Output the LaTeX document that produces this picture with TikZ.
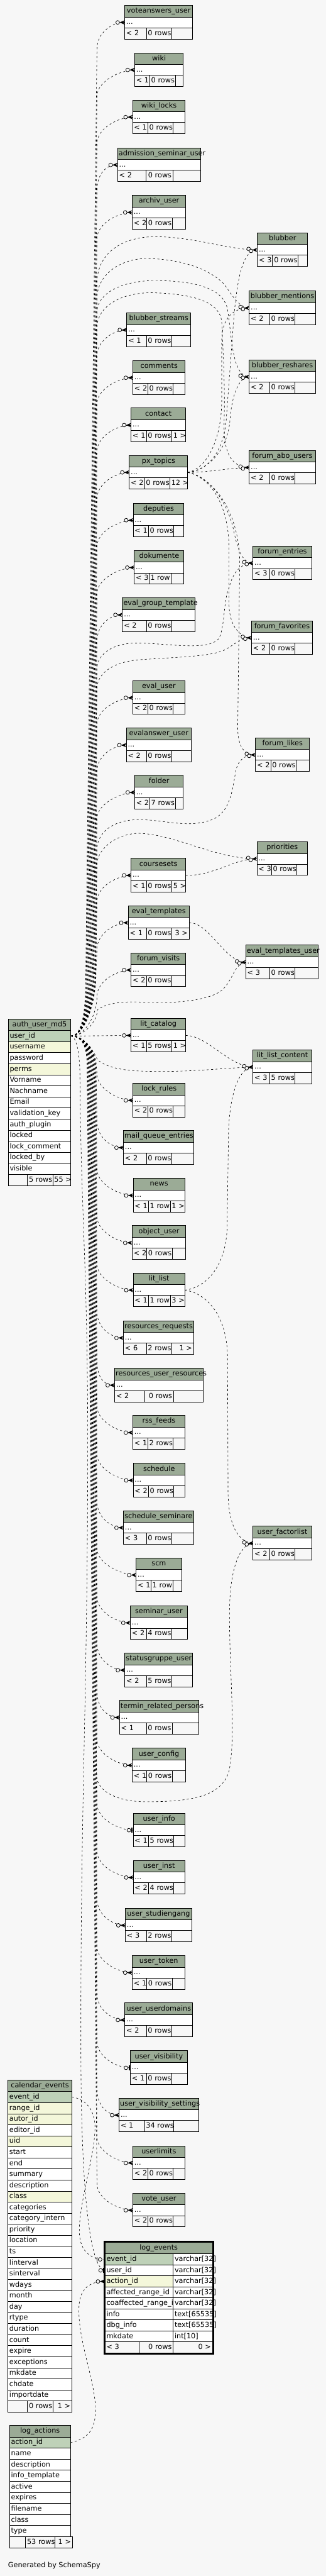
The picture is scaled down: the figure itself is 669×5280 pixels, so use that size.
\documentclass[tikz,border=0pt]{standalone}
\usepackage{fontspec}
\setmainfont{DejaVu Sans}
\usetikzlibrary{calc}

\definecolor{bgc}{HTML}{F7F7F7}
\definecolor{hdrc}{HTML}{9BAB96}
\definecolor{keyc}{HTML}{BED1B8}
\definecolor{idxc}{HTML}{F4F7DA}

\tikzset{
  cell/.style={draw=black, line width=0.6pt, inner xsep=1.5pt, inner ysep=0pt,
    outer sep=0pt, text height=5.3pt, text depth=1.5pt, anchor=north west},
  hdr/.style={cell, fill=hdrc, inner xsep=1pt, minimum height=12pt, align=center},
  dotrow/.style={cell, fill=white, minimum height=11pt, align=left},
  foot/.style={cell, fill=bgc, minimum height=11.5pt, align=left},
  footr/.style={foot, align=right},
  col/.style={cell, minimum height=11.3pt, align=left},
  fk/.style={line width=0.4pt, dash pattern=on 2pt off 2.5pt},
  mk/.style={line width=0.5pt, fill=bgc},
}

\newlength\cw
% collapsed table: name, x left, split 1, split 2, x right, y top, footer texts
\newcommand\ctab[9]{%
  \pgfmathsetlength\cw{(#5-#2)*0.5pt-2pt}%
  \node[hdr, text width=\cw] (#1) at (#2,#6) {\detokenize{#1}};
  \pgfmathsetlength\cw{(#5-#2)*0.5pt-3pt}%
  \node[dotrow, text width=\cw] (#1-r) at (#2,{#6+24}) {...};
  \pgfmathsetlength\cw{(#3-#2)*0.5pt-3pt}%
  \node[foot, text width=\cw] (#1-a) at (#2,{#6+46}) {\mbox{#7}};
  \pgfmathsetlength\cw{(#4-#3)*0.5pt-3pt}%
  \node[footr, text width=\cw] (#1-b) at (#3,{#6+46}) {\mbox{#8}};
  \pgfmathsetlength\cw{(#5-#4)*0.5pt-3pt}%
  \node[footr, text width=\cw] (#1-c) at (#4,{#6+46}) {\mbox{#9}};}

% crow's foot with open circle (zero or many)
\newcommand\many[1]{%
  \fill ($(#1.west)+(-10.5,0)$) -- ($(#1.west)+(0,-4.5)$) -- ($(#1.west)+(-3.5,0)$)
    -- ($(#1.west)+(0,4.5)$) -- cycle;
  \draw[line width=0.5pt] ($(#1.west)+(-10.5,0)$) -- (#1.west);
  \draw[mk] ($(#1.west)+(-14.5,0)$) circle (1.9pt);}
\newcommand\mmany[1]{%
  \fill ($(#1.west)+(-10.5,0)$) -- ($(#1.west)+(0,-4.5)$) -- ($(#1.west)+(-3.5,0)$)
    -- ($(#1.west)+(0,4.5)$) -- cycle;
  \draw[line width=0.5pt] ($(#1.west)+(-10.5,0)$) -- (#1.west);
  \draw[mk] ($(#1.west)+(-18,-2)$) circle (1.9pt);
  \draw[mk] ($(#1.west)+(-13,2)$) circle (1.9pt);}
% open circle and bar (zero or one)
\newcommand\zeroone[1]{%
  \draw[line width=1.2pt] ($(#1.west)+(-2.5,-5)$) -- ($(#1.west)+(-2.5,5)$);
  \draw[mk] ($(#1.west)+(-9,0)$) circle (1.9pt);}
\newcommand\onezero[1]{%
  \draw[line width=0.6pt] ($(#1.west)+(-17,-5)$) -- ($(#1.west)+(-17,5)$);
  \draw[mk] ($(#1.west)+(-10,0)$) circle (1.9pt);}

% bundle from auth_user_md5.user_id, up or down to a table
\newcommand\fkup[2]{%
  \draw[fk] (au-1.east) .. controls (172,2123.6) and (#2,2060) .. (#2,1995)
    -- ($(#1.west -| bus)+(0,55)$) .. controls ($(#1.west -| bus)+(0,22)$)
    and ($(#1.west)+(-28,0)$) .. (#1.west);}
\newcommand\fkdn[2]{%
  \draw[fk] (au-1.east) .. controls (172,2123.6) and (#2,2150) .. (#2,2190)
    -- ($(#1.west -| bus)+(0,-55)$) .. controls ($(#1.west -| bus)+(0,-22)$)
    and ($(#1.west)+(-28,0)$) .. (#1.west);}

\begin{document}
\begin{tikzpicture}[x=0.5pt, y=-0.5pt, font=\fontsize{7.25}{8.7}\selectfont]
  \useasboundingbox (0,0) rectangle (669,5280);
  \fill[bgc] (0,0) rectangle (669,5280);
  \coordinate (bus) at (199,0);

  % --- auth_user_md5 ---
  \pgfmathsetlength\cw{(145.5-17)*0.5pt-2pt}
  \node[hdr, text width=\cw] (auth_user_md5) at (17,2088.3) {auth\_user\_md5};
  \pgfmathsetlength\cw{(145.5-17)*0.5pt-3pt}
  \foreach \tx/\cl [count=\i] in {user\_id/keyc, username/idxc, password/white,
      perms/idxc, Vorname/white, Nachname/white, Email/white, validation\_key/white,
      auth\_plugin/white, locked/white, lock\_comment/white, locked\_by/white, visible/white}
    \node[col, fill=\cl, text width=\cw] (au-\i) at (17,{2112.3+(\i-1)*22.69}) {\tx};
  \node[foot, text width=16.65pt] (au-fa) at (17,2407.3) {};
  \node[footr, text width=23.05pt] (au-fb) at (56.3,2407.3) {\mbox{5 rows}};
  \node[footr, text width=15.55pt] (au-fc) at (108.4,2407.3) {\mbox{55 >}};

  % --- calendar_events ---
  \pgfmathsetlength\cw{(147.6-16.2)*0.5pt-2pt}
  \node[hdr, text width=\cw] (calendar_events) at (16.2,4263.3) {calendar\_events};
  \pgfmathsetlength\cw{(147.6-16.2)*0.5pt-3pt}
  \foreach \tx/\cl [count=\i] in {event\_id/keyc, range\_id/idxc, autor\_id/idxc,
      editor\_id/white, uid/idxc, start/white, end/white, summary/white,
      description/white, class/idxc, categories/white, category\_intern/white,
      priority/white, location/white, ts/white, linterval/white, sinterval/white,
      wdays/white, month/white, day/white, rtype/white, duration/white, count/white,
      expire/white, exceptions/white, mkdate/white, chdate/white, importdate/white}
    \node[col, fill=\cl, text width=\cw] (ce-\i) at (16.2,{4287.3+(\i-1)*22.64}) {\tx};
  \node[foot, text width=17.05pt] (ce-fa) at (16.2,4921.2) {};
  \node[footr, text width=23.05pt] (ce-fb) at (56.3,4921.2) {\mbox{0 rows}};
  \node[footr, text width=16.6pt] (ce-fc) at (108.4,4921.2) {\mbox{1 >}};

  % --- log_actions ---
  \pgfmathsetlength\cw{(144.6-19.6)*0.5pt-2pt}
  \node[hdr, text width=\cw] (log_actions) at (19.6,4971.3) {log\_actions};
  \pgfmathsetlength\cw{(144.6-19.6)*0.5pt-3pt}
  \foreach \tx/\cl [count=\i] in {action\_id/keyc, name/white, description/white,
      info\_template/white, active/white, expires/white, filename/white,
      class/white, type/white}
    \node[col, fill=\cl, text width=\cw] (la-\i) at (19.6,{4995.3+(\i-1)*22.67}) {\tx};
  \node[foot, text width=13.45pt] (la-fa) at (19.6,5199.3) {};
  \node[footr, text width=27.05pt] (la-fb) at (52.5,5199.3) {\mbox{53 rows}};
  \node[footr, text width=15pt] (la-fc) at (112.6,5199.3) {\mbox{1 >}};

  % --- log_events (focus table) ---
  \pgfmathsetlength\cw{(436-215.5)*0.5pt-2pt}
  \node[hdr, text width=\cw] (log_events) at (215.5,4595.7) {log\_events};
  \foreach \tx/\ty/\cl [count=\i] in {event\_id/varchar[32]/keyc,
      user\_id/varchar[32]/white, action\_id/varchar[32]/idxc,
      affected\_range\_id/varchar[32]/white, coaffected\_range\_id/varchar[32]/white,
      info/text[65535]/white, dbg\_info/text[65535]/white, mkdate/int[10]/white}{
    \node[col, fill=\cl, text width=66.95pt] (le-\i) at (215.5,{4619.7+(\i-1)*22.58}) {\tx};
    \node[col, fill=white, text width=38.8pt] (lt-\i) at (355.4,{4619.7+(\i-1)*22.58}) {\ty};
  }
  \node[foot, text width=32pt] (le-fa) at (215.5,4800.3) {\mbox{< 3}};
  \node[footr, text width=31.95pt] (le-fb) at (285.5,4800.3) {\mbox{0 rows}};
  \node[footr, text width=37.3pt] (le-fc) at (355.4,4800.3) {\mbox{0 >}};
  \draw[line width=1.6pt] (214,4594) rectangle (437.5,4824.8);

  % --- middle column ---
  \ctab{voteanswers_user}{256}{300.4}{352.5}{395.6}{11}{< 2}{0 rows}{}
  \ctab{wiki}{276.5}{307.2}{359.7}{376.3}{108.3}{< 1}{0 rows}{}
  \ctab{wiki_locks}{272.2}{303.4}{355}{380.2}{205}{< 1}{0 rows}{}
  \ctab{admission_seminar_user}{241.5}{299.5}{355}{411.3}{303}{< 2}{0 rows}{}
  \ctab{archiv_user}{271.4}{301.2}{353.3}{381}{400.3}{< 2}{0 rows}{}
  \ctab{blubber_streams}{260.3}{300.4}{352.5}{391.3}{641.3}{< 1}{0 rows}{}
  \ctab{comments}{272.7}{303.4}{355}{380.2}{739.3}{< 2}{0 rows}{}
  \ctab{contact}{269.2}{300.4}{352.5}{381}{836.3}{< 1}{0 rows}{1 >}
  \ctab{px_topics}{265.4}{296.6}{348.6}{385.3}{933.3}{< 2}{0 rows}{12 >}
  \ctab{deputies}{273.5}{304.7}{356.3}{377.6}{1031.3}{< 1}{0 rows}{}
  \ctab{dokumente}{275.6}{305.5}{351.6}{377.6}{1128.3}{< 3}{1 row}{}
  \ctab{eval_group_template}{251.3}{300.4}{352.5}{400.7}{1225.3}{< 2}{0 rows}{}
  \ctab{eval_user}{272.7}{303.4}{355}{379.3}{1395.3}{< 2}{0 rows}{}
  \ctab{evalanswer_user}{259.4}{300.4}{352.5}{392.1}{1492.3}{< 2}{0 rows}{}
  \ctab{folder}{276.5}{307.2}{359.7}{376.3}{1589.3}{< 2}{7 rows}{}
  \ctab{coursesets}{269.2}{300.4}{352.5}{381}{1759.3}{< 1}{0 rows}{5 >}
  \ctab{eval_templates}{263.3}{300.4}{352.5}{388.3}{1856.3}{< 1}{0 rows}{3 >}
  \ctab{forum_visits}{269.2}{300.4}{352.5}{381}{1953.3}{< 2}{0 rows}{}
  \ctab{lit_catalog}{269.2}{300.4}{352.5}{381}{2087.3}{< 1}{5 rows}{1 >}
  \ctab{lock_rules}{272.7}{303.4}{355}{380.2}{2220.3}{< 2}{0 rows}{}
  \ctab{mail_queue_entries}{253.5}{300.4}{352.5}{397.3}{2317.3}{< 2}{0 rows}{}
  \ctab{news}{273.5}{304.7}{349.5}{379.3}{2415.3}{< 1}{1 row}{1 >}
  \ctab{object_user}{271.4}{301.2}{353.3}{381}{2512.3}{< 2}{0 rows}{}
  \ctab{lit_list}{273.5}{304.7}{349.5}{379.3}{2609.3}{< 1}{1 row}{3 >}
  \ctab{resources_requests}{253.5}{300.4}{352.5}{397.3}{2707.3}{< 6}{2 rows}{1 >}
  \ctab{resources_user_resources}{235.5}{296.6}{356.3}{416.5}{2804.3}{< 2}{0 rows}{}
  \ctab{rss_feeds}{272.7}{303.4}{355}{379.3}{2901.3}{< 1}{2 rows}{}
  \ctab{schedule}{273.5}{304.7}{356.3}{379.3}{2999.3}{< 2}{0 rows}{}
  \ctab{schedule_seminare}{253.5}{300.4}{352.5}{397.3}{3096.3}{< 3}{0 rows}{}
  \ctab{scm}{279.5}{309.8}{355.5}{372.5}{3193.3}{< 1}{1 row}{}
  \ctab{seminar_user}{267.5}{300.4}{352.5}{384.5}{3291.3}{< 2}{4 rows}{}
  \ctab{statusgruppe_user}{256.4}{300.4}{352.5}{395.6}{3388.3}{< 2}{5 rows}{}
  \ctab{termin_related_persons}{245.4}{300.4}{353.8}{407.5}{3485.3}{< 1}{0 rows}{}
  \ctab{user_config}{271.4}{301.2}{353.3}{381}{3583.3}{< 1}{0 rows}{}
  \ctab{user_info}{273.5}{304.7}{356.3}{379.3}{3716.3}{< 1}{5 rows}{}
  \ctab{user_inst}{273.5}{304.7}{356.3}{379.3}{3813.3}{< 2}{4 rows}{}
  \ctab{user_studiengang}{257.3}{300.4}{352.5}{393.4}{3911.3}{< 3}{2 rows}{}
  \ctab{user_token}{271.4}{301.2}{353.3}{380.2}{4008.3}{< 1}{0 rows}{}
  \ctab{user_userdomains}{256.4}{300.4}{352.5}{395.6}{4105.3}{< 2}{0 rows}{}
  \ctab{user_visibility}{267.5}{300.4}{352.5}{384.5}{4203.3}{< 1}{0 rows}{}
  \ctab{user_visibility_settings}{244.5}{296.6}{356.3}{407.5}{4300.3}{< 1}{34 rows}{}
  \ctab{userlimits}{272.7}{303.4}{355}{379.3}{4398.3}{< 2}{0 rows}{}
  \ctab{vote_user}{272.7}{303.4}{355}{379.3}{4495.3}{< 2}{0 rows}{}

  % --- right column ---
  \ctab{blubber}{528.2}{559.4}{611.5}{631.5}{477.3}{< 3}{0 rows}{}
  \ctab{blubber_mentions}{511.6}{553.4}{605.5}{647.3}{596.3}{< 2}{0 rows}{}
  \ctab{blubber_reshares}{511.6}{553.4}{605.5}{647.3}{737.3}{< 2}{0 rows}{}
  \ctab{forum_abo_users}{511.6}{553.4}{605.5}{647.3}{923.3}{< 2}{0 rows}{}
  \ctab{forum_entries}{519.3}{553.4}{605.5}{639.6}{1119.3}{< 3}{0 rows}{}
  \ctab{forum_favorites}{516.3}{553.4}{605.5}{641.3}{1272.3}{< 2}{0 rows}{}
  \ctab{forum_likes}{524.4}{555.6}{607.2}{635.3}{1512.3}{< 2}{0 rows}{}
  \ctab{priorities}{527.4}{557.2}{609.3}{631.1}{1725.3}{< 3}{0 rows}{}
  \ctab{eval_templates_user}{504.4}{553.4}{605.5}{653.3}{1937.3}{< 3}{0 rows}{}
  \ctab{lit_list_content}{519.3}{553.4}{605.5}{639.6}{2152.3}{< 3}{5 rows}{}
  \ctab{user_factorlist}{519.3}{553.4}{605.5}{639.6}{3128.3}{< 2}{0 rows}{}

  % --- user_id bundle, upwards ---
  \foreach \tb/\bx in {voteanswers_user/176, wiki/177, wiki_locks/178,
      admission_seminar_user/179, archiv_user/180, blubber_streams/185,
      comments/186, contact/187, px_topics/188, deputies/189, dokumente/190,
      eval_group_template/191, eval_user/193, evalanswer_user/194, folder/195,
      coursesets/196.5, eval_templates/197}
    {\fkup{\tb-r}{\bx}\many{\tb-r}}
  \draw[fk] (au-1.east) .. controls (175,2123.6) and (199,2080) .. (199,2043)
    .. controls (199,2010) and (241,1988) .. (forum_visits-r.west);
  \many{forum_visits-r}
  \draw[fk] (au-1.east) -- (lit_catalog-r.west);
  \many{lit_catalog-r}

  % --- user_id bundle, downwards ---
  \foreach \tb/\bx in {lock_rules/198, mail_queue_entries/197, news/196.2,
      object_user/195.4, lit_list/194.6, resources_requests/193.8,
      resources_user_resources/193, rss_feeds/192.2, schedule/191.4,
      schedule_seminare/190.6, scm/189.8, seminar_user/189,
      statusgruppe_user/188.2, termin_related_persons/187.4, user_config/186.6,
      user_inst/184.4, user_studiengang/183.6, user_token/182.8,
      user_userdomains/182, user_visibility_settings/180.4, userlimits/179.6,
      vote_user/178.8}
    {\fkdn{\tb-r}{\bx}\many{\tb-r}}
  \fkdn{user_info-r}{185.2}
  \zeroone{user_info-r}
  \fkdn{user_visibility-r}{181.2}
  \zeroone{user_visibility-r}

  % --- user_id to the right column ---
  \draw[fk] (au-1.east) .. controls (172,2123.6) and (181,2060) .. (181,1995) -- (199,580)
    .. controls (200,515) and (255,485) .. (320,485)
    .. controls (400,486) and (470,512) .. (blubber-r.west);
  \draw[fk] (au-1.east) .. controls (172,2123.6) and (182,2060) .. (182,1995) -- (199,610)
    .. controls (201,560) and (250,530) .. (300,530)
    .. controls (380,530) and (440,558) .. (462,585)
    .. controls (478,608) and (492,631) .. (blubber_mentions-r.west);
  \draw[fk] (au-1.east) .. controls (172,2123.6) and (183,2060) .. (183,1995) -- (199,640)
    .. controls (201,595) and (260,575) .. (320,575)
    .. controls (400,576) and (455,590) .. (466,630)
    .. controls (476,680) and (474,772) .. (blubber_reshares-r.west);
  \draw[fk] (au-1.east) .. controls (172,2123.6) and (184,2060) .. (184,1995) -- (199,670)
    .. controls (202,620) and (260,600) .. (310,600)
    .. controls (400,602) and (452,620) .. (455,660)
    .. controls (458,720) and (462,800) .. (460,860)
    .. controls (458,920) and (470,958) .. (forum_abo_users-r.west);
  \draw[fk] (au-1.east) .. controls (172,2123.6) and (191.5,2060) .. (191.5,1995) -- (199,1370)
    .. controls (201,1335) and (240,1318) .. (280,1318)
    .. controls (340,1318) and (425,1335) .. (448,1310)
    .. controls (462,1290) and (458,1230) .. (470,1205)
    .. controls (478,1172) and (495,1154) .. (forum_entries-r.west);
  \draw[fk] (au-1.east) .. controls (172,2123.6) and (192,2060) .. (192,1995) -- (199,1410)
    .. controls (201,1375) and (240,1355) .. (290,1352)
    .. controls (380,1346) and (440,1345) .. (465,1330)
    .. controls (482,1320) and (495,1307) .. (forum_favorites-r.west);
  \draw[fk] (au-1.east) .. controls (172,2123.6) and (195.5,2060) .. (195.5,1995) -- (199,1740)
    .. controls (201,1700) and (240,1680) .. (285,1680)
    .. controls (340,1680) and (390,1700) .. (440,1678)
    .. controls (475,1660) and (478,1610) .. (484,1580)
    .. controls (488,1560) and (500,1547) .. (forum_likes-r.west);
  \draw[fk] (au-1.east) .. controls (172,2123.6) and (196,2060) .. (196,1995) -- (199,1770)
    .. controls (202,1735) and (245,1708) .. (285,1708)
    .. controls (360,1710) and (440,1760) .. (priorities-r.west);
  \draw[fk] (au-1.east) .. controls (172,2123.6) and (199,2095) .. (200,2070)
    .. controls (215,2057) and (250,2052) .. (290,2054)
    .. controls (360,2058) and (430,2050) .. (455,2030)
    .. controls (478,2010) and (482,1973) .. (eval_templates_user-r.west);
  \draw[fk] (au-1.east) .. controls (172,2123.6) and (190,2150) .. (200,2172)
    .. controls (220,2190) and (260,2196) .. (320,2196)
    .. controls (400,2197) and (470,2188) .. (lit_list_content-r.west);
  \draw[fk] (au-1.east) .. controls (172,2123.6) and (186,2150) .. (186,2190) -- (198,3640)
    .. controls (200,3672) and (240,3693) .. (300,3693)
    .. controls (400,3693) and (455,3680) .. (470,3630)
    .. controls (485,3560) and (470,3420) .. (471,3300)
    .. controls (472,3220) and (490,3165) .. (user_factorlist-r.west);

  % --- links between other tables ---
  \draw[fk] (px_topics-r.east) .. controls (430,968) and (470,959) .. (forum_abo_users-r.west);
  \draw[fk] (px_topics-r.east) .. controls (430,965) and (462,920) .. (465,850) -- (480,650)
    .. controls (488,560) and (500,512) .. (blubber-r.west);
  \draw[fk] (px_topics-r.east) .. controls (425,960) and (455,900) .. (455,820) -- (455,700)
    .. controls (455,650) and (480,631) .. (blubber_mentions-r.west);
  \draw[fk] (px_topics-r.east) .. controls (430,962) and (468,920) .. (472,860)
    .. controls (476,810) and (490,772) .. (blubber_reshares-r.west);
  \draw[fk] (px_topics-r.east) .. controls (430,975) and (465,1030) .. (478,1080)
    .. controls (486,1120) and (495,1154) .. (forum_entries-r.west);
  \draw[fk] (px_topics-r.east) .. controls (430,978) and (468,1030) .. (470,1120) -- (470,1240)
    .. controls (471,1280) and (490,1307) .. (forum_favorites-r.west);
  \draw[fk] (px_topics-r.east) .. controls (440,980) and (490,1050) .. (492,1150) -- (488,1480)
    .. controls (486,1530) and (500,1547) .. (forum_likes-r.west);
  \draw[fk] (coursesets-r.east) .. controls (440,1795) and (480,1760) .. (priorities-r.west);
  \draw[fk] (eval_templates-r.east) .. controls (430,1891) and (460,1971) .. (eval_templates_user-r.west);
  \draw[fk] (lit_catalog-r.east) .. controls (425,2122) and (470,2186) .. (lit_list_content-r.west);
  \draw[fk] (lit_list-r.east) .. controls (420,2640) and (462,2600) .. (466,2520) -- (469,2320)
    .. controls (471,2250) and (488,2188) .. (lit_list_content-r.west);
  \draw[fk] (lit_list-r.east) .. controls (420,2650) and (465,2690) .. (467,2780) -- (468,3060)
    .. controls (469,3120) and (485,3160) .. (user_factorlist-r.west);

  % --- links into log_events ---
  \draw[fk] (au-1.east) .. controls (155,2124) and (163,2150) .. (164,2200)
    .. controls (166,2500) and (181,2600) .. (180,3000)
    .. controls (179,3500) and (165,3700) .. (166,4200)
    .. controls (166,4450) and (180,4650) .. (le-2.west);
  \draw[fk] (ce-1.east) .. controls (170,4300) and (195,4320) .. (195,4360)
    .. controls (195,4420) and (160,4520) .. (163,4580)
    .. controls (166,4615) and (185,4630) .. (le-1.west);
  \draw[fk] (la-1.east) .. controls (175,5000) and (196,4985) .. (196,4940)
    .. controls (196,4880) and (160,4800) .. (162,4730)
    .. controls (163,4690) and (185,4676) .. (le-3.west);

  % --- markers on the right column and log_events ---
  \foreach \tb in {blubber, blubber_mentions, blubber_reshares, forum_abo_users,
      forum_entries, forum_favorites, forum_likes, priorities, eval_templates_user,
      lit_list_content, user_factorlist}
    {\mmany{\tb-r}}
  \onezero{le-1}
  \zeroone{le-2}
  \many{le-3}

  \node[anchor=west, inner sep=0pt] (gen) at (16.2,5258) {Generated by SchemaSpy};
\end{tikzpicture}
\end{document}
